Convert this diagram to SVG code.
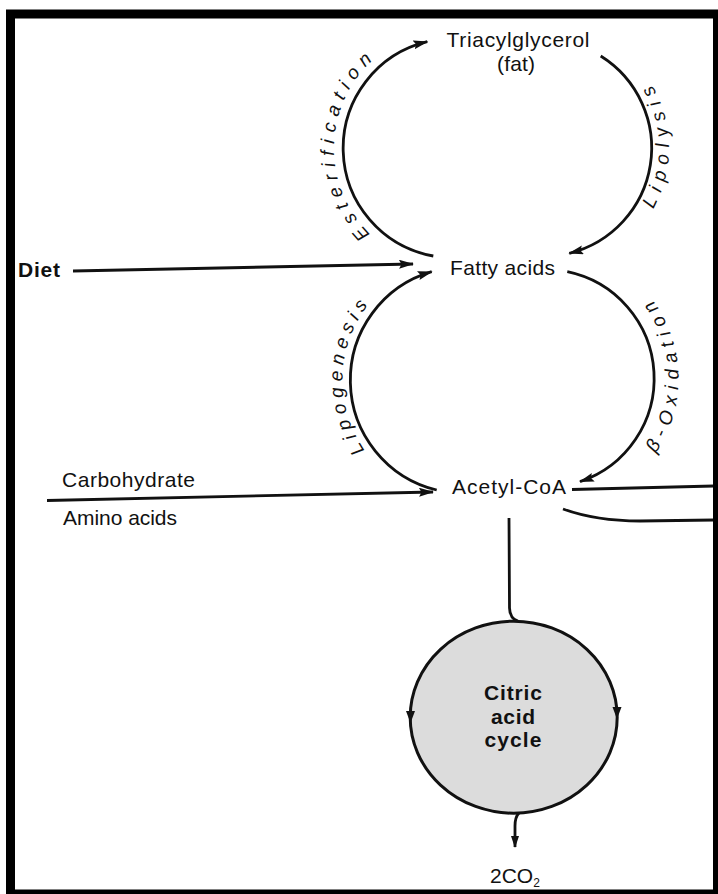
<svg xmlns="http://www.w3.org/2000/svg" width="718" height="894" viewBox="0 0 718 894">
<defs>
<style>
.t{font-family:"Liberation Sans",Arial,Helvetica,sans-serif;font-size:21px;fill:#111}
.b{font-weight:bold}
.lab{font-family:"Liberation Sans",Arial,Helvetica,sans-serif;font-size:19px;font-style:italic;fill:#111}
.ln{fill:none;stroke:#111;stroke-width:2.8}
</style>
<marker id="ah" markerUnits="userSpaceOnUse" markerWidth="16" markerHeight="10" refX="14" refY="4.5" orient="auto"><path d="M0,0 L15,4.5 L0,9 L2.5,4.5 z" fill="#111"/></marker>
<marker id="ahs" markerUnits="userSpaceOnUse" markerWidth="12" markerHeight="9" refX="11" refY="4" orient="auto"><path d="M0,0 L12,4 L0,8 z" fill="#111"/></marker>
<path id="pEst" d="M393.75,251.8 A119.5,119.5 0 0 1 393.75,44.8"/>
<path id="pLipo" d="M639.75,228.35 A125,125 0 0 0 639.75,67.65"/>
<path id="pLipog" d="M403.75,486.09 A122.5,122.5 0 0 1 403.75,273.91"/>
<path id="pBox" d="M647.5,463.87 A132.5,132.5 0 0 0 647.5,293.53"/>
</defs>
<rect width="718" height="894" fill="#fff"/>

<g id="connectors">
<path class="ln" d="M433.3,256 A109.5,109.5 0 0 1 427.3,41.7" marker-end="url(#ah)"/>
<path class="ln" d="M600.7,56 A108.5,108.5 0 0 1 569.3,253.3" marker-end="url(#ah)"/>
<path class="ln" d="M436.7,490 A113,113 0 0 1 431.7,271.7" marker-end="url(#ah)"/>
<path class="ln" d="M567.3,271.7 A109,109 0 0 1 580,481.7" marker-end="url(#ah)"/>
<path class="ln" d="M73,271 L413,264" marker-end="url(#ah)"/>
<path class="ln" d="M47,500.5 L433,492" stroke-width="3" marker-end="url(#ah)"/>
<path class="ln" d="M572,489.5 L714,486"/>
<path class="ln" d="M563,509 C585,517 610,521 640,521 L714,520"/>
<path class="ln" d="M509,518 L509.5,608 Q510,619 518,621"/>
<path class="ln" d="M519,813 Q515,817 515,826 L515,847" marker-end="url(#ahs)"/>
</g>

<g id="arc-labels">
<text class="lab" letter-spacing="6.6"><textPath href="#pEst" startOffset="130" text-anchor="middle">Esterification</textPath></text>
<text class="lab" letter-spacing="7.1"><textPath href="#pLipo" startOffset="92" text-anchor="middle">Lipolysis</textPath></text>
<text class="lab" letter-spacing="5.4"><textPath href="#pLipog" startOffset="133.6" text-anchor="middle">Lipogenesis</textPath></text>
<text class="lab" letter-spacing="6.6"><textPath href="#pBox" startOffset="98.2" text-anchor="middle">β-Oxidation</textPath></text>
</g>

<g id="triacylglycerol">
<text class="t" x="518" y="47" text-anchor="middle" textLength="143" lengthAdjust="spacing">Triacylglycerol</text>
<text class="t" x="516" y="71" text-anchor="middle" textLength="38" lengthAdjust="spacing">(fat)</text>
</g>
<g id="fatty-acids">
<text class="t" x="502.5" y="275" text-anchor="middle" textLength="105" lengthAdjust="spacing">Fatty acids</text>
</g>
<g id="diet">
<text class="t b" x="18" y="277" textLength="42" lengthAdjust="spacing">Diet</text>
</g>
<g id="acetyl-coa">
<text class="t" x="509" y="494" text-anchor="middle" textLength="114" lengthAdjust="spacing">Acetyl-CoA</text>
</g>
<g id="carbohydrate">
<text class="t" x="62" y="487" textLength="133" lengthAdjust="spacing">Carbohydrate</text>
</g>
<g id="amino-acids">
<text class="t" x="63" y="525" textLength="114" lengthAdjust="spacing">Amino acids</text>
</g>
<g id="citric-acid-cycle">
<ellipse cx="513.7" cy="717.2" rx="103.5" ry="96" fill="#dcdcdc" stroke="#111" stroke-width="3"/>
<path d="M406,711 L415,711 L410.5,723 z" fill="#111"/>
<path d="M612.5,707 L621.5,707 L617,719 z" fill="#111"/>
<text class="t b" x="513" y="700" text-anchor="middle" textLength="58" lengthAdjust="spacing">Citric</text>
<text class="t b" x="513" y="724" text-anchor="middle" textLength="44" lengthAdjust="spacing">acid</text>
<text class="t b" x="513" y="747" text-anchor="middle" textLength="57" lengthAdjust="spacing">cycle</text>
</g>
<g id="co2">
<text class="t" x="490" y="883" font-size="19">2CO<tspan font-size="12" dy="4">2</tspan></text>
</g>

<g id="frame">
<rect x="10.5" y="14" width="707" height="880" fill="none" stroke="#000" stroke-width="9"/>
</g>
</svg>
